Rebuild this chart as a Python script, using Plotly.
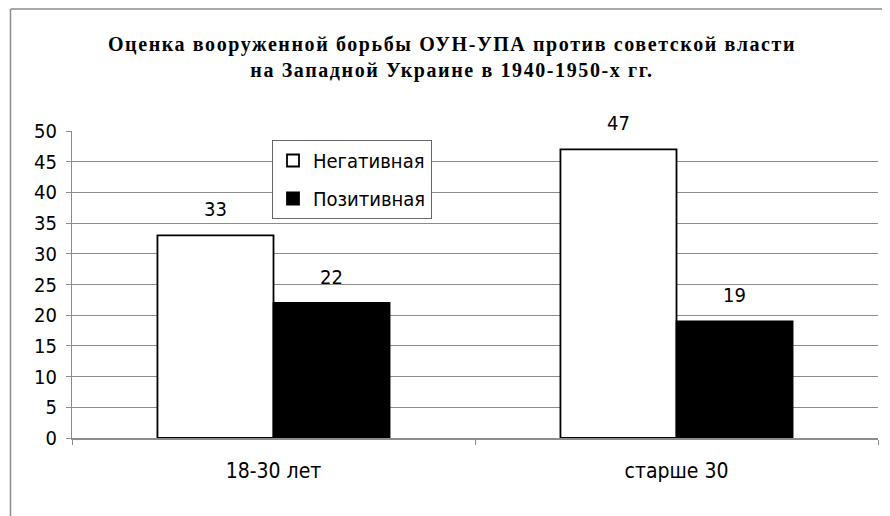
import plotly.graph_objects as go

categories = ["18-30 лет", "старше 30"]
negative = [33, 47]
positive = [22, 19]
series_names = ["Негативная", "Позитивная"]
title_lines = ["Оценка вооруженной борьбы ОУН-УПА против советской власти",
               "на Западной Украине в 1940-1950-х гг."]

font_main = "DejaVu Sans Condensed, DejaVu Sans, sans-serif"
BODY = 8  # browser default body margin offset
W, H = 890 - BODY, 516 - BODY
L, R, T, B = 64, 12, 123, 78
pw, ph = W - L - R, H - T - B

fig = go.Figure()
fig.add_trace(go.Bar(
    x=categories, y=negative, name=series_names[0],
    marker=dict(color="white", line=dict(color="black", width=1.8)),
    legendgroup="a",
))
fig.add_trace(go.Bar(
    x=categories, y=positive, name=series_names[1],
    marker=dict(color="black", line=dict(color="black", width=1.8)),
    legendgroup="b",
))

bargap = 0.424
bar_w = pw / len(categories) * (1 - bargap) / 2
for vals, sign in ((negative, -1), (positive, 1)):
    for c, v in zip(categories, vals):
        fig.add_annotation(
            x=c, y=v, xref="x", yref="y", text=str(v), showarrow=False,
            xshift=sign * bar_w / 2, yshift=26, yanchor="middle",
            font=dict(family=font_main, size=20, color="black"),
        )

ls = "letter-spacing:1.6px"
fig.update_layout(
    width=W, height=H,
    margin=dict(l=L, r=R, t=T, b=B),
    paper_bgcolor="white", plot_bgcolor="white",
    barmode="group", bargap=bargap, bargroupgap=0,
    showlegend=True,
    legend=dict(
        x=(272 - BODY - L) / pw, y=(H - B - (140 - BODY)) / ph,
        xanchor="left", yanchor="top",
        bgcolor="white", bordercolor="#666666", borderwidth=1,
        font=dict(family=font_main, size=20, color="black"),
        tracegroupgap=9, traceorder="grouped", itemwidth=30,
    ),
    title=dict(
        text=f'<span style="{ls}"><b>{title_lines[0]}</b></span><br>'
             f'<span style="{ls}"><b>{title_lines[1]}</b></span>',
        x=(452 - BODY) / W, xanchor="center", xref="container",
        y=1 - (51 - BODY) / H, yanchor="middle", yref="container",
        font=dict(family="Liberation Serif, Times New Roman, serif", size=20, color="black"),
    ),
)
fig.update_yaxes(
    range=[0, 50], dtick=5, showgrid=True, gridcolor="#8c8c8c", gridwidth=1,
    showline=True, linecolor="#8c8c8c", linewidth=1,
    ticks="outside", ticklen=5, tickcolor="#8c8c8c",
    tickfont=dict(family=font_main, size=20, color="black"),
    zeroline=False, ticklabelstandoff=5,
)
fig.update_xaxes(
    showline=True, linecolor="#8c8c8c", linewidth=1.5,
    ticks="outside", ticklen=5, tickcolor="#8c8c8c", tickson="boundaries",
    tickfont=dict(family=font_main, size=21, color="black"),
    ticklabelstandoff=13,
)
# outer chart frame (top and left edges visible)
fx, fy = 2.5, 1.0
fig.add_shape(type="line", xref="paper", yref="paper",
              x0=(fx - L) / pw, x1=(fx - L) / pw, y0=-B / ph - 0.1, y1=(H - B - fy) / ph,
              line=dict(color="#8c8c8c", width=1.5))
fig.add_shape(type="line", xref="paper", yref="paper",
              x0=(fx - L) / pw, x1=1 + R / pw + 0.1, y0=(H - B - fy) / ph, y1=(H - B - fy) / ph,
              line=dict(color="#8c8c8c", width=1.5))

fig.write_html("out.html")
